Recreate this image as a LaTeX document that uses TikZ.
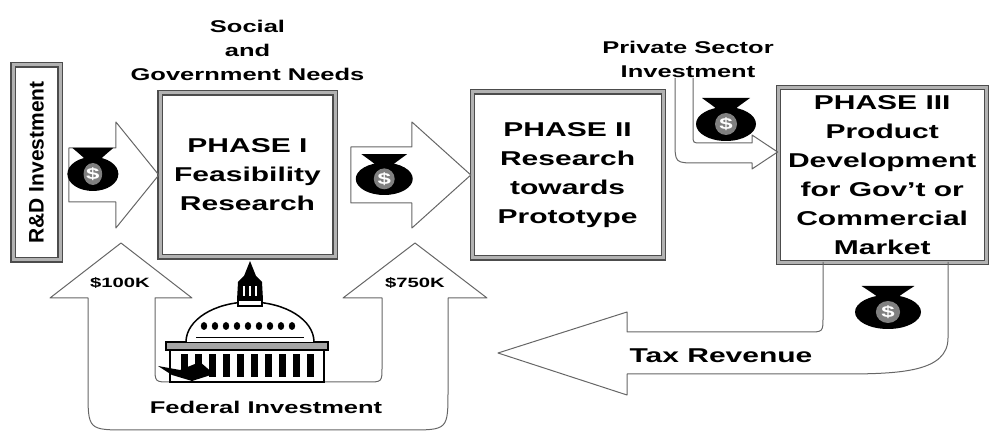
\documentclass[tikz,border=0pt]{standalone}
\usepackage{fontspec}
\setmainfont{Liberation Sans}[FakeStretch=1.5]
\newfontfamily\rdfont{Liberation Sans}
\usetikzlibrary{positioning,shapes.arrows}

\tikzset{
  phase/.style={draw=black!70, double=black!30, double distance=3pt, line width=1.1pt,
    align=center, font=\fontsize{20}{29}\selectfont\bfseries},
  note/.style={align=center, font=\fontsize{17}{24}\selectfont\bfseries},
  money/.style={font=\fontsize{13.5}{14}\selectfont\bfseries},
  flow/.style={draw=black!60, line width=1pt, line join=round},
  bigarrow/.style={single arrow, flow, inner sep=0pt, text depth=0pt},
  moneybag/.pic={
    \fill (-8,11) .. controls (-14,16) and (-20,20) .. (-24,23) -- (24,23)
      .. controls (20,20) and (14,16) .. (8,11) -- cycle;
    \fill (0,-3) ellipse [x radius=30, y radius=17];
    \fill[black!50] (0,-3) circle [radius=11];
    \node[white, font=\fontsize{16}{16}\selectfont\bfseries] at (0,-3) {\$};
  }
}

\begin{document}
\begin{tikzpicture}[x=1pt, y=1pt]
  \useasboundingbox (0,0) rectangle (989,434);

  % phases
  \node[phase, minimum width=175pt, minimum height=164pt] (p1) at (247.5,259)
    {PHASE I\\Feasibility\\Research};
  \node[phase, minimum width=191pt, minimum height=166pt, right=136pt of p1] (p2)
    {PHASE II\\Research\\towards\\Prototype};
  \node[phase, minimum width=208pt, minimum height=175pt, right=114pt of p2] (p3)
    {PHASE III\\Product\\Development\\for Gov't or\\Commercial\\Market};
  \node[phase, rotate=90, minimum width=195pt, minimum height=47pt,
    font=\rdfont\fontsize{21}{21}\selectfont\bfseries] (rd) at (36.5,271.5) {R\&D Investment};

  % money going into phase I and phase II
  \node[bigarrow, anchor=tip, minimum height=90pt, text height=53pt,
    single arrow head extend=26pt, single arrow tip angle=102] (in1) at (p1.west) {};
  \node[bigarrow, anchor=tip, minimum height=120pt, text height=55pt,
    single arrow head extend=25pt, single arrow tip angle=84] (in2) at (p2.west) {};
  \pic[xscale=.85] at ([shift={(-10pt,4pt)}]in1.center) {moneybag};
  \pic[scale=.95] at ([shift={(-11pt,-1pt)}]in2.center) {moneybag};

  % labels
  \node[note, above=8pt of p1] (needs) {Social\\and\\Government Needs};
  \node[note] (private) at (688,375) {Private Sector\\Investment};
  \node[note, font=\fontsize{20}{20}\selectfont\bfseries] (tax) at (721,78) {Tax Revenue};
  \node[note] (federal) at (266,27) {Federal Investment};

  % private sector investment into phase III
  \draw[flow] (675,356) -- (675,293) .. controls (675,271) .. (697,271) -- (752,271)
    -- (752,265) -- ([yshift=23pt]p3.west) -- (752,299) -- (752,291) -- (701,291)
    .. controls (693,291) .. (693,299) -- (693,356);
  \pic at (726,313) {moneybag};

  % tax revenue back from phase III
  \draw[flow] (823,172) -- (823,117) .. controls (823,102) .. (808,102) -- (627,102)
    -- (627,122) -- (498,81) -- (627,39) -- (627,60) -- (842,60)
    .. controls (900,60) and (948,62) .. (948,96) -- (948,172);
  \pic[xscale=1.1] at (888,125) {moneybag};

  % federal investment, one U shaped arrow with two heads
  \draw[flow] (155,136) -- (192,136) -- (121,191) -- (50,136) -- (88,136) -- (88,44)
    .. controls (88,4) .. (128,4) -- (408,4) .. controls (448,4) .. (448,44)
    -- (448,136) -- (487,136) -- (415,191) -- (343,136) -- (382,136) -- (382,67)
    .. controls (382,52) .. (367,52) -- (170,52) .. controls (155,52) .. (155,67) -- cycle;
  \node[money] (k100) at (120,151) {\$100K};
  \node[money] (k750) at (415,151) {\$750K};

  % capitol
  \begin{scope}[line width=1.5pt]
    \filldraw[fill=white] (170,52) rectangle (324,86);
    \filldraw[fill=black!35] (166,84) rectangle (328,92);
    \foreach \c in {184,198,...,318} \fill (\c-3.5,57) rectangle (\c+3.5,80);
    \filldraw[fill=white] (186,92) arc[start angle=180, end angle=0, x radius=64, y radius=40];
    \draw[line width=.8pt] (196,97) -- (304,97);
    \foreach \w in {204,215,...,300} \fill (\w,108) ellipse [x radius=3.2, y radius=4];
    \filldraw[fill=white] (238,128) rectangle (262,134);
    \fill (237,134) -- (238,152) -- (244,158) -- (250,173) -- (256,158) -- (262,152)
      -- (263,134) -- cycle;
    \foreach \s in {244,250,256} \fill[white] (\s-1.2,138) rectangle (\s+1.2,148);
    \fill (158,68) -- (180,64) -- (200,72) -- (214,60) -- (192,53) -- (172,59) -- cycle;
  \end{scope}
\end{tikzpicture}
\end{document}
